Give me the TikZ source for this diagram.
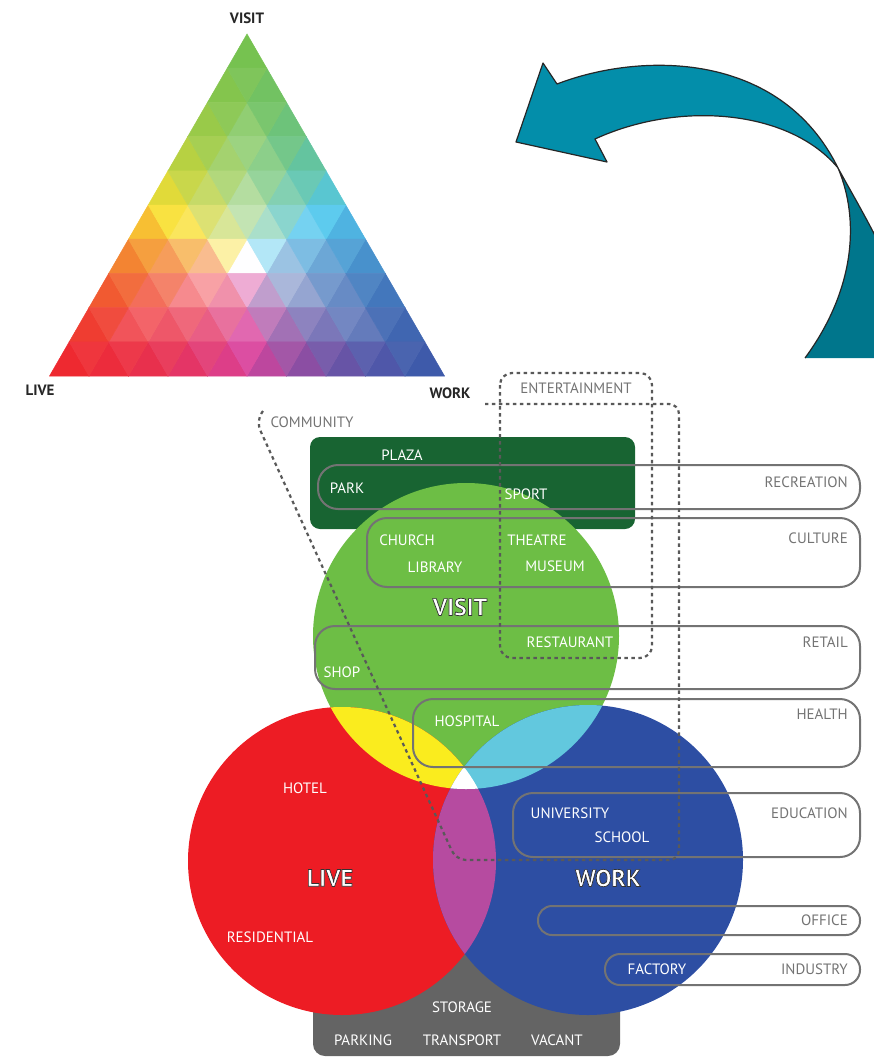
\documentclass[tikz,border=0pt]{standalone}
\usepackage{fontspec}
\setmainfont{PT Sans}

\definecolor{tc0}{RGB}{237,28,36}
\definecolor{tc1}{RGB}{248,222,40}
\definecolor{tc2}{RGB}{110,190,70}
\definecolor{tc3}{RGB}{72,196,236}
\definecolor{tc4}{RGB}{50,80,165}
\definecolor{tc5}{RGB}{215,55,150}
\colorlet{tc6}{tc0}
\definecolor{livered}{RGB}{237,28,36}
\definecolor{visitgreen}{RGB}{109,190,69}
\definecolor{workblue}{RGB}{45,78,163}
\definecolor{lvyellow}{RGB}{250,236,30}
\definecolor{vwcyan}{RGB}{98,200,222}
\definecolor{lwpurple}{RGB}{182,75,160}
\definecolor{plazagreen}{RGB}{24,100,50}
\definecolor{storegray}{RGB}{100,100,100}
\definecolor{tealA}{RGB}{3,142,170}
\definecolor{tealB}{RGB}{0,118,140}

% colour of a small triangle from its centroid
\newcommand{\tricol}[2]{%
  \pgfmathsetmacro\tdx{#1-247+0.01}
  \pgfmathsetmacro\tdy{262-#2}
  \pgfmathsetmacro\ang{atan2(\tdy,\tdx)}
  \pgfmathsetmacro\hue{mod(210-\ang+720,360)}
  \pgfmathtruncatemacro\hsec{floor(\hue/60)}
  \pgfmathtruncatemacro\hnxt{\hsec+1}
  \pgfmathsetmacro\hfr{(\hue-60*\hsec)*100/60}
  \pgfmathsetmacro\bv{(376-#2)/342}
  \pgfmathsetmacro\bw{(#1-247+(#2-34)/342*197.5)/395}
  \pgfmathsetmacro\bl{1-\bv-\bw}
  \pgfmathsetmacro\sat{100*(max(1-3*min(\bl,\bv,\bw),0.0001))^0.55}
  \colorlet{mixc}{tc\hnxt!\hfr!tc\hsec}
  \colorlet{tric}{mixc!\sat!white}%
}

\begin{document}
\begin{tikzpicture}[x=1pt,y=-1pt,
  wl/.style={text=white,font=\fontsize{15}{15}\selectfont,inner sep=0pt},
  gl/.style={text=black!55,font=\fontsize{15}{15}\selectfont,inner sep=0pt},
  tl/.style={text=black!85,font=\bfseries\fontsize{15}{15}\selectfont,inner sep=0pt},
  bigl/.style={text=white,font=\bfseries\fontsize{24}{24}\selectfont,inner sep=0pt},
  ring/.style={draw=black!55,line width=2pt},
  dashbox/.style={draw=black!65,line width=2.2pt,dash pattern=on 3.5pt off 3.5pt}]
\useasboundingbox (0,0) rectangle (874,1057);

% colour triangle
\foreach \r in {0,...,9}{
  \foreach \k in {0,...,\r}{
    \pgfmathsetmacro\xt{247-\r*39.5/2+\k*39.5}
    \pgfmathsetmacro\yt{34+\r*34.2}
    \pgfmathsetmacro\cy{\yt+2*34.2/3}
    \tricol{\xt}{\cy}
    \filldraw[fill=tric,draw=tric,line width=.5pt] (\xt,\yt) -- ++(-19.75,34.2) -- ++(39.5,0) -- cycle;
  }
}
\foreach \r in {1,...,9}{
  \foreach \k in {1,...,\r}{
    \pgfmathsetmacro\xt{247-\r*39.5/2+(\k-1)*39.5}
    \pgfmathsetmacro\yt{34+\r*34.2}
    \pgfmathsetmacro\cx{\xt+19.75}
    \pgfmathsetmacro\cy{\yt+34.2/3}
    \tricol{\cx}{\cy}
    \filldraw[fill=tric,draw=tric,line width=.5pt] (\xt,\yt) -- ++(39.5,0) -- ++(-19.75,34.2) -- cycle;
  }
}
\node[tl] (tvisit) at (247,18) {VISIT};
\node[tl] (tlive) at (40,390) {LIVE};
\node[tl] (twork) at (450,393) {WORK};

% arrow
\begin{scope}
  \clip (0,0) rectangle (874,1057);
  \fill[tealB] (838,168) .. controls (860,220) and (855,290) .. (805,358) -- (885,358) -- (885,255)
    .. controls (865,215) and (850,190) .. (838,168) -- cycle;
  \draw[black!85,line width=1.2pt] (805,358) .. controls (855,290) and (860,220) .. (838,168)
    .. controls (850,190) and (865,215) .. (885,255);
  \filldraw[fill=tealA,draw=black!85,line width=1.2pt,line join=round] (838,168) .. controls (780,50) and (640,52) .. (557,84)
    -- (543,63) -- (516,142) -- (607,162) -- (595,139) .. controls (680,100) and (790,110) .. (838,168) -- cycle;
\end{scope}

% blocks behind the circles
\fill[plazagreen,rounded corners=10] (310,437) rectangle (635,529);
\fill[storegray,rounded corners=12] (313,930) rectangle (620,1056);

% circles
\fill[visitgreen] (466,636) circle (153);
\fill[livered] (342,861) circle (154);
\fill[workblue] (588,860) circle (155);
\begin{scope}
  \clip (342,861) circle (154);
  \fill[lvyellow] (466,636) circle (153);
  \fill[lwpurple] (588,860) circle (155);
\end{scope}
\begin{scope}
  \clip (466,636) circle (153);
  \fill[vwcyan] (588,860) circle (155);
  \clip (342,861) circle (154);
  \fill[white] (588,860) circle (155);
\end{scope}

% outline bands
\draw[ring,rounded corners=20] (318,465) rectangle (860,509);
\draw[ring,rounded corners=20] (367,518) rectangle (860,587);
\draw[ring,rounded corners=20] (315,626) rectangle (860,689);
\draw[ring,rounded corners=20] (413,699) rectangle (860,767);
\draw[ring,rounded corners=20] (513,793) rectangle (860,857);
\draw[ring,rounded corners=14] (538,906) rectangle (860,935);
\draw[ring,rounded corners=15] (605,954) rectangle (860,985);

% dashed groups
\draw[dashbox,rounded corners=12] (500,373) rectangle (652,658);
\draw[dashbox,rounded corners=10] (263,411) -- (256,421) -- (456,860) -- (679,860) -- (679,404) -- (485,404);

% labels
\node[gl] (community) at (312,422) {COMMUNITY};
\node[gl] (entertain) at (576,388) {ENTERTAINMENT};
\node[wl] (plaza) at (402,455) {PLAZA};
\node[wl] (park) at (347,488) {PARK};
\node[wl] (sport) at (526,494) {SPORT};
\node[wl] (church) at (407,540) {CHURCH};
\node[wl] (library) at (435,567) {LIBRARY};
\node[wl] (theatre) at (537,540) {THEATRE};
\node[wl] (museum) at (555,566) {MUSEUM};
\node[wl] (restaurant) at (570,642) {RESTAURANT};
\node[wl] (shop) at (342,672) {SHOP};
\node[wl] (hospital) at (467,721) {HOSPITAL};
\node[wl] (hotel) at (305,788) {HOTEL};
\node[wl] (residential) at (270,937) {RESIDENTIAL};
\node[wl] (university) at (570,813) {UNIVERSITY};
\node[wl] (school) at (622,837) {SCHOOL};
\node[wl] (factory) at (657,969) {FACTORY};
\node[wl] (storage) at (462,1007) {STORAGE};
\node[wl] (parking) at (363,1040) {PARKING};
\node[wl] (transport) at (462,1040) {TRANSPORT};
\node[wl] (vacant) at (557,1040) {VACANT};
\node[gl,anchor=east] (recreation) at (848,482) {RECREATION};
\node[gl,anchor=east] (culture) at (848,538) {CULTURE};
\node[gl,anchor=east] (retail) at (848,642) {RETAIL};
\node[gl,anchor=east] (health) at (848,714) {HEALTH};
\node[gl,anchor=east] (education) at (848,813) {EDUCATION};
\node[gl,anchor=east] (office) at (848,920) {OFFICE};
\node[gl,anchor=east] (industry) at (848,969) {INDUSTRY};
% outlined big labels (fill + stroke text)
\node[bigl] (cvisit) at (460,607) {\special{pdf:literal direct 2 Tr 0.7 w 0.2 G}VISIT\special{pdf:literal direct 0 Tr}};
\node[bigl] (clive) at (330,878) {\special{pdf:literal direct 2 Tr 0.7 w 0.2 G}LIVE\special{pdf:literal direct 0 Tr}};
\node[bigl] (cwork) at (608,878) {\special{pdf:literal direct 2 Tr 0.7 w 0.2 G}WORK\special{pdf:literal direct 0 Tr}};
\end{tikzpicture}
\end{document}
